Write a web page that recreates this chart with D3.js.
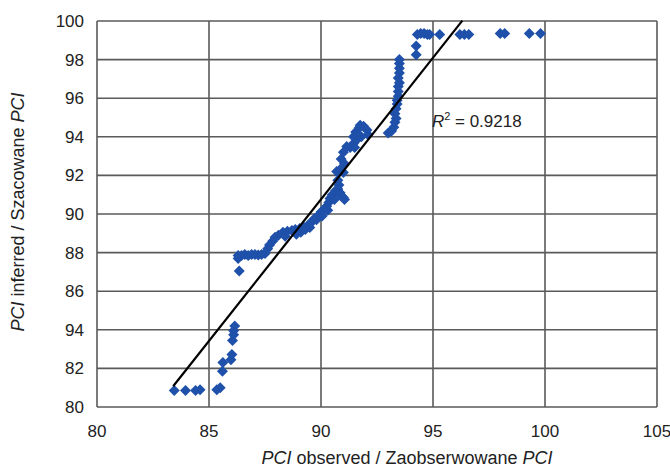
<!DOCTYPE html>
<html><head><meta charset="utf-8">
<script src="https://cdn.jsdelivr.net/npm/d3@7"></script>
<style>body{margin:0;background:#fff} text{font-family:"Liberation Sans",Arial,sans-serif;fill:#222}</style>
</head><body><svg id="c" width="670" height="470"></svg>
<script>
const observed = [
83.45,83.95,84.4,84.6,85.35,85.5,85.6,85.62,85.98,86.02,86.05,86.1,86.1,86.15,86.35,
86.3,86.3,86.45,86.6,86.75,86.9,87.05,87.2,87.35,87.5,87.62,87.7,87.85,87.95,88.1,88.3,88.4,88.5,88.7,88.85,88.9,89.05,89.1,89.25,89.3,89.45,89.5,89.6,89.7,89.8,89.9,90.0,90.05,90.15,90.25,90.3,90.35,90.4,90.5,90.6,90.65,90.75,90.85,90.9,91.0,91.05,
90.8,90.75,90.7,90.85,91.0,91.05,90.9,91.0,91.15,91.3,91.45,91.5,91.45,91.6,91.55,91.7,91.75,91.9,92.05,92.1,91.8,
93.0,93.15,93.25,93.3,93.35,93.3,93.35,93.4,93.4,93.45,93.45,93.45,93.5,93.45,93.5,93.5,93.5,93.5,
94.25,94.25,94.3,94.45,94.6,94.75,94.85,95.3,96.2,96.4,96.6,98.0,98.2,99.3,99.8
];
const inferred = [
80.85,80.85,80.85,80.9,80.9,81.0,81.85,82.3,82.45,82.72,83.45,83.75,83.95,84.2,87.05,
87.7,87.85,87.85,87.9,87.85,87.9,87.9,87.88,87.9,87.95,88.2,88.4,88.6,88.8,88.9,89.05,88.85,89.1,89.15,89.2,88.95,89.25,89.05,89.3,89.2,89.45,89.3,89.6,89.75,89.7,89.95,90.1,89.9,90.25,90.4,90.2,90.6,90.8,91.0,90.75,91.2,91.3,91.1,90.95,90.85,90.75,
91.5,91.75,92.2,92.3,92.15,92.6,92.85,93.2,93.5,93.45,93.65,93.45,94.0,93.85,94.25,94.45,94.6,94.55,94.35,94.1,94.0,
94.2,94.3,94.5,94.75,94.95,95.2,95.45,95.7,95.9,96.1,96.35,96.6,96.8,97.05,97.3,97.55,97.8,98.0,
98.25,98.7,99.3,99.35,99.35,99.3,99.3,99.3,99.3,99.3,99.3,99.35,99.35,99.35,99.35
];
const xTicks = [80,85,90,95,100,105];
const xTickLabels = ["80","85","90","95","100","105"];
const yTicks = [80,82,84,86,88,90,92,94,96,98,100];
const yTickLabels = ["80","82","94","86","88","90","92","94","96","98","100"];
const trendRange = [83.4, 96.31];
const trendSlope = 1.467, trendIntercept = -41.27;
const r2Value = "0.9218";

const svg = d3.select("#c");
const x = d3.scaleLinear().domain([80,105]).range([97,657]);
const y = d3.scaleLinear().domain([80,100]).range([407,21]);
const grid = "#5a5a5a";

svg.append("g").selectAll("line").data(xTicks).join("line")
  .attr("x1",d=>x(d)).attr("x2",d=>x(d)).attr("y1",y(80)).attr("y2",y(100))
  .attr("stroke",grid).attr("stroke-width",1.6);
svg.append("g").selectAll("line").data(yTicks).join("line")
  .attr("y1",d=>y(d)).attr("y2",d=>y(d)).attr("x1",x(80)).attr("x2",x(105))
  .attr("stroke",grid).attr("stroke-width",1.6);

svg.append("g").selectAll("text").data(xTicks).join("text")
  .attr("x",d=>x(d)).attr("y",y(80)+30).attr("text-anchor","middle")
  .attr("font-size",17).text((d,i)=>xTickLabels[i]);
svg.append("g").selectAll("text").data(yTicks).join("text")
  .attr("x",x(80)-13).attr("y",d=>y(d)+6).attr("text-anchor","end")
  .attr("font-size",17).text((d,i)=>yTickLabels[i]);

const pts = observed.map((o,i)=>[o,inferred[i]]);
svg.append("g").selectAll("path").data(pts).join("path")
  .attr("d","M0,-5.5L5.5,0L0,5.5L-5.5,0Z")
  .attr("transform",d=>`translate(${x(d[0])},${y(d[1])})`)
  .attr("fill","#1f51aa");

svg.append("line")
  .attr("x1",x(trendRange[0])).attr("y1",y(trendSlope*trendRange[0]+trendIntercept))
  .attr("x2",x(trendRange[1])).attr("y2",y(trendSlope*trendRange[1]+trendIntercept))
  .attr("stroke","#000").attr("stroke-width",2.2);

const r2 = svg.append("text").attr("x",x(94.95)).attr("y",y(94.5)).attr("font-size",17);
r2.append("tspan").attr("font-style","italic").text("R");
r2.append("tspan").attr("font-size",11).attr("dy",-7).text("2");
r2.append("tspan").attr("dy",7).text(" = " + r2Value);

const xt = svg.append("text").attr("x",407).attr("y",464).attr("text-anchor","middle").attr("font-size",18);
xt.append("tspan").attr("font-style","italic").text("PCI");
xt.append("tspan").text(" observed / Zaobserwowane ");
xt.append("tspan").attr("font-style","italic").text("PCI");

const yt = svg.append("text").attr("transform","translate(24,212) rotate(-90)").attr("text-anchor","middle").attr("font-size",18);
yt.append("tspan").attr("font-style","italic").text("PCI");
yt.append("tspan").text(" inferred / Szacowane ");
yt.append("tspan").attr("font-style","italic").text("PCI");
</script></body></html>
